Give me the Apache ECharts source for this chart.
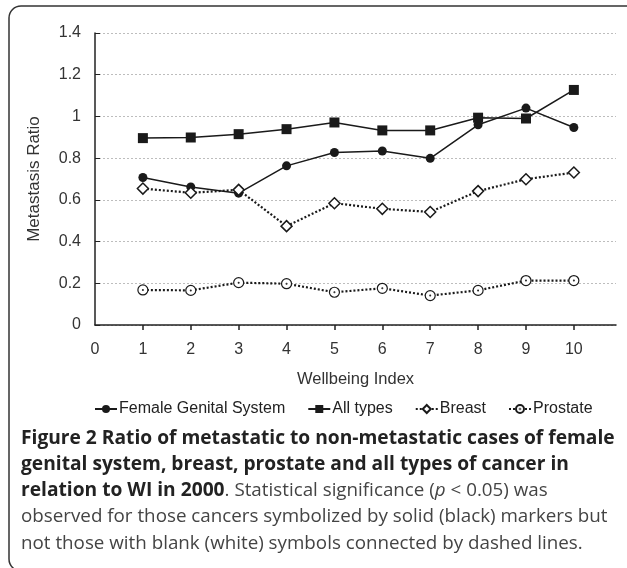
<!DOCTYPE html>
<html>
<head>
<meta charset="utf-8">
<script src="https://cdn.jsdelivr.net/npm/echarts@6/dist/echarts.min.js"></script>
<style>
html,body{margin:0;padding:0;background:#fff;}
#chart{width:627px;height:568px;}
</style>
</head>
<body>
<div id="chart"></div>
<script>
const wellbeingIndex = [1, 2, 3, 4, 5, 6, 7, 8, 9, 10];
const femaleGenital = [0.707, 0.662, 0.632, 0.763, 0.827, 0.834, 0.799, 0.960, 1.040, 0.947];
const allTypes = [0.896, 0.899, 0.915, 0.939, 0.971, 0.933, 0.933, 0.994, 0.990, 1.127];
const breast = [0.654, 0.634, 0.648, 0.474, 0.584, 0.557, 0.542, 0.642, 0.699, 0.731];
const prostate = [0.168, 0.166, 0.203, 0.198, 0.157, 0.176, 0.141, 0.166, 0.213, 0.213];
const xTickLabels = [0, 1, 2, 3, 4, 5, 6, 7, 8, 9, 10];
const seriesNames = ['Female Genital System', 'All types', 'Breast', 'Prostate'];

function pairs(vals) { return wellbeingIndex.map((x, i) => [x, vals[i]]); }

const chart = echarts.init(document.getElementById('chart'), null, {renderer: 'canvas'});
const ink = '#1a1a1a';
const ringDot = 'path://M10,0A10,10,0,1,1,10,20A10,10,0,1,1,10,0ZM10,9.2A0.8,0.8,0,1,1,10,10.8A0.8,0.8,0,1,1,10,9.2Z';

const captionFont = '"Open Sans", "Noto Sans", sans-serif';
const axisFont = '"Liberation Sans", Arial, sans-serif';

const option = {
  animation: false,
  backgroundColor: '#fff',
  grid: {left: 95, top: 33, right: 11, bottom: 243, containLabel: false},
  xAxis: {
    type: 'value', min: 0, max: 10.88, interval: 1,
    name: 'Wellbeing Index', nameLocation: 'middle', nameGap: 46,
    nameTextStyle: {fontFamily: axisFont, fontSize: 16.5, color: '#333'},
    axisLine: {show: true, lineStyle: {color: '#222', width: 1.5}},
    axisTick: {show: true, inside: false, length: 5, lineStyle: {color: '#222', width: 1.5}, customValues: wellbeingIndex},
    axisLabel: {fontFamily: axisFont, fontSize: 16, color: '#333', margin: 17, customValues: xTickLabels},
    splitLine: {show: false}
  },
  yAxis: {
    type: 'value', min: 0, max: 1.4, interval: 0.2,
    name: 'Metastasis Ratio', nameLocation: 'middle', nameGap: 52, nameRotate: 90,
    nameTextStyle: {fontFamily: axisFont, fontSize: 17, color: '#333'},
    axisLine: {show: true, lineStyle: {color: '#222', width: 1.5}},
    axisTick: {show: true, inside: true, length: 5, lineStyle: {color: '#222', width: 1}},
    axisLabel: {fontFamily: axisFont, fontSize: 16, color: '#333', margin: 14},
    splitLine: {show: true, lineStyle: {color: '#bdbdbd', width: 1, type: [2, 2]}}
  },
  legend: {
    left: 89, top: 396,
    itemWidth: 22, itemHeight: 10, itemGap: 22,
    textStyle: {fontFamily: axisFont, fontSize: 16, color: '#222', padding: [0, 0, 0, -3]},
    data: seriesNames
  },
  series: [
    {
      name: seriesNames[0], type: 'line', data: pairs(femaleGenital),
      symbol: 'circle', symbolSize: 9,
      itemStyle: {color: ink},
      lineStyle: {color: ink, width: 1.5, type: 'solid'}
    },
    {
      name: seriesNames[1], type: 'line', data: pairs(allTypes),
      symbol: 'rect', symbolSize: 10,
      itemStyle: {color: ink},
      lineStyle: {color: ink, width: 1.5, type: 'solid'}
    },
    {
      name: seriesNames[2], type: 'line', data: pairs(breast),
      symbol: 'diamond', symbolSize: 11,
      itemStyle: {color: '#fff', borderColor: ink, borderWidth: 1.5},
      lineStyle: {color: ink, width: 2.2, type: [2, 2]}
    },
    {
      name: seriesNames[3], type: 'line', data: pairs(prostate),
      symbol: ringDot, symbolSize: 10,
      itemStyle: {color: '#fff', borderColor: ink, borderWidth: 1.2},
      lineStyle: {color: ink, width: 2.2, type: [2, 2]}
    }
  ],
  graphic: [
    {
      type: 'rect', silent: true, z: -1,
      shape: {x: 9, y: 6, width: 640, height: 565, r: 12},
      style: {fill: 'none', stroke: '#333', lineWidth: 1.5}
    },
    {
      type: 'text', left: 21, top: 429,
      style: {
        text: '{b|Figure 2 Ratio of metastatic to non-metastatic cases of female}\n' +
              '{b|genital system, breast, prostate and all types of cancer in}\n' +
              '{b|relation to WI in 2000}{n|. Statistical significance (}{i|p}{n| < 0.05) was}\n' +
              '{n|observed for those cancers symbolized by solid (black) markers but}\n' +
              '{n|not those with blank (white) symbols connected by dashed lines.}',
        rich: {
          b: {fontFamily: captionFont, fontSize: 19.2, fontWeight: 'bold', fill: '#222', lineHeight: 26.2},
          n: {fontFamily: captionFont, fontSize: 18.8, fontWeight: 'normal', fill: '#444', lineHeight: 26.2},
          i: {fontFamily: captionFont, fontSize: 18.8, fontStyle: 'italic', fill: '#444', lineHeight: 26.2}
        }
      }
    }
  ]
};
chart.setOption(option);
</script>
</body>
</html>
